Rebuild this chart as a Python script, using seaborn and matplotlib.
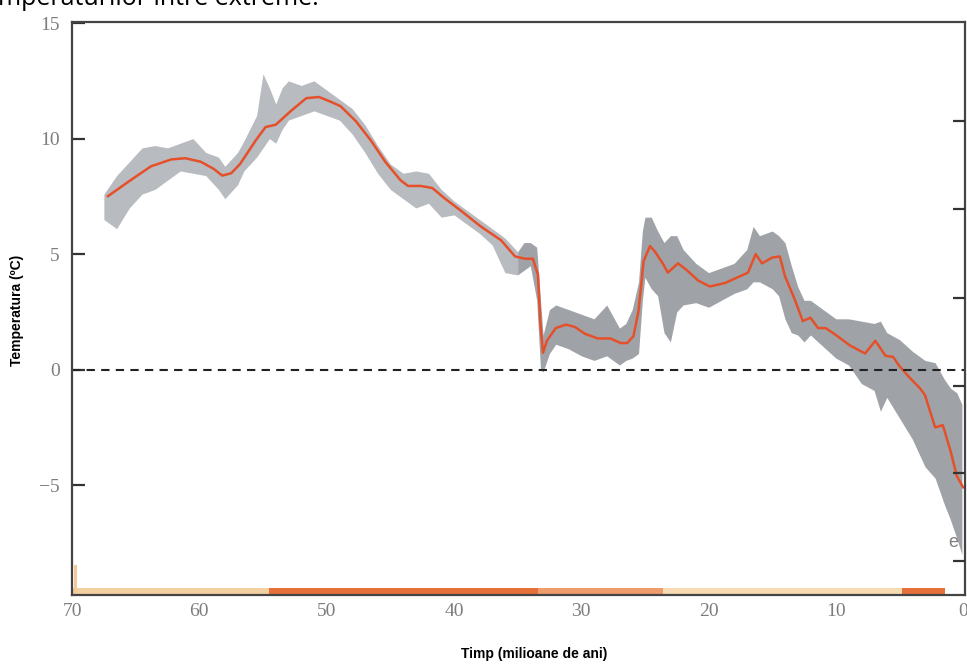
import matplotlib
matplotlib.use('Agg')
import matplotlib.pyplot as plt
import seaborn as sns
import pandas as pd

# smoothed curve (orange)
line_age = [67.2, 65.4, 63.8, 62.2, 61.1, 59.9, 58.9, 58.2, 57.5, 56.8, 55.6, 54.8,
            54.0, 52.8, 51.6, 50.6, 49.7, 48.9, 47.7, 46.5, 45.4, 44.2, 43.6, 42.6,
            41.7, 40.7, 39.5, 37.9, 36.3, 35.2, 34.4, 33.8, 33.4, 33.2, 33.0, 32.7,
            32.0, 31.2, 30.5, 29.7, 28.7, 27.7, 26.9, 26.4, 25.9, 25.5, 25.1, 24.6,
            24.2, 23.6, 23.2, 22.4, 21.8, 20.8, 19.9, 18.7, 17.5, 16.9, 16.3, 15.8,
            15.0, 14.4, 14.0, 13.2, 12.6, 12.0, 11.4, 10.8, 10.0, 8.9, 7.7, 6.9,
            6.1, 5.5, 5.0, 4.2, 3.4, 3.0, 2.6, 2.2, 1.6, 1.0, 0.5, 0.0]
line_temp = [7.5, 8.2, 8.8, 9.1, 9.15, 9.0, 8.7, 8.4, 8.5, 8.9, 9.9, 10.5,
             10.6, 11.2, 11.75, 11.8, 11.6, 11.4, 10.75, 9.9, 9.0, 8.2, 7.95, 7.95,
             7.86, 7.4, 6.9, 6.2, 5.6, 4.9, 4.8, 4.8, 4.1, 1.9, 0.73, 1.25,
             1.8, 1.95, 1.85, 1.55, 1.35, 1.35, 1.15, 1.15, 1.45, 2.55, 4.7, 5.35,
             5.1, 4.6, 4.2, 4.6, 4.35, 3.85, 3.6, 3.75, 4.05, 4.2, 5.0, 4.6,
             4.85, 4.9, 4.05, 3.0, 2.1, 2.25, 1.8, 1.8, 1.5, 1.05, 0.7, 1.25,
             0.6, 0.55, 0.15, -0.35, -0.8, -1.1, -1.8, -2.5, -2.4, -3.5, -4.6, -5.1]

# spread of the raw measurements (grey), sparse older part
old_age = [67.5, 66.5, 65.5, 64.5, 63.5, 62.5, 61.5, 60.5, 59.5, 58.5, 58.0, 57.0,
           56.5, 55.5, 55.0, 54.5, 54.0, 53.5, 53.0, 52.0, 51.0, 50.0, 49.0, 48.0,
           47.0, 46.0, 45.0, 44.0, 43.0, 42.0, 41.0, 40.0, 39.0, 38.0, 37.0, 36.0,
           35.0]
old_lo = [6.5, 6.1, 7.0, 7.6, 7.8, 8.2, 8.6, 8.5, 8.4, 7.8, 7.4, 8.0,
          8.6, 9.2, 9.6, 10.0, 9.8, 10.4, 10.8, 11.0, 11.2, 11.0, 10.8, 10.2,
          9.4, 8.5, 7.8, 7.4, 7.0, 7.2, 6.6, 6.7, 6.3, 5.9, 5.4, 4.2,
          4.1]
old_hi = [7.6, 8.4, 9.0, 9.6, 9.7, 9.6, 9.8, 10.0, 9.4, 9.2, 8.8, 9.4,
          9.9, 11.0, 12.8, 12.2, 11.5, 12.2, 12.5, 12.3, 12.5, 12.1, 11.7, 11.3,
          10.6, 9.7, 8.9, 8.5, 8.6, 8.5, 7.8, 7.3, 6.9, 6.5, 6.1, 5.7,
          5.1]

# dense younger part
new_age = [35.0, 34.5, 34.0, 33.5, 33.2, 33.0, 32.5, 32.0, 31.0, 30.0, 29.0, 28.0,
           27.0, 26.5, 26.0, 25.5, 25.2, 25.0, 24.5, 24.0, 23.5, 23.0, 22.5, 22.0,
           21.0, 20.0, 19.0, 18.0, 17.0, 16.5, 16.0, 15.0, 14.5, 14.0, 13.5, 13.0,
           12.5, 12.0, 11.0, 10.0, 9.0, 8.0, 7.0, 6.5, 6.0, 5.0, 4.0, 3.0,
           2.2, 1.5, 1.0, 0.5, 0.1]
new_lo = [4.1, 4.3, 4.5, 3.0, 0.0, -0.1, 0.7, 1.1, 0.9, 0.6, 0.4, 0.6,
          0.2, 0.4, 0.5, 0.7, 3.0, 4.0, 3.5, 3.2, 1.6, 1.2, 2.5, 2.8,
          2.9, 2.7, 3.0, 3.3, 3.5, 3.8, 3.8, 3.5, 3.2, 2.2, 1.6, 1.5,
          1.2, 1.5, 1.0, 0.5, 0.2, -0.6, -0.9, -1.8, -1.2, -2.1, -3.0, -4.2,
          -4.7, -5.8, -6.5, -7.3, -8.0]
new_hi = [5.1, 5.5, 5.5, 5.3, 3.0, 1.5, 2.6, 2.8, 2.6, 2.4, 2.2, 2.8,
          1.8, 2.0, 2.6, 3.8, 6.0, 6.6, 6.6, 6.0, 5.5, 5.8, 5.8, 5.2,
          4.6, 4.2, 4.4, 4.6, 5.2, 6.2, 5.8, 6.0, 5.8, 5.5, 4.5, 3.6,
          3.0, 3.0, 2.6, 2.2, 2.2, 2.1, 2.0, 2.1, 1.6, 1.3, 0.8, 0.4,
          0.3, -0.4, -0.8, -1.0, -1.5]

# epoch strip along the bottom
epoch_start = [70.0, 54.5, 33.4, 23.6, 4.8]
epoch_end = [54.5, 33.4, 23.6, 4.8, 1.4]
epoch_color = ['#f3d0a2', '#e5703a', '#ee9c6c', '#f7dbb3', '#e5703a']

x_ticks = [70, 60, 50, 40, 30, 20, 10, 0]
y_ticks = [15, 10, 5, 0, -5]
right_ticks = [10.76, 6.96, 3.11, -0.69, -4.49, -8.29]

sns.set_theme(style='white')
plt.rcParams['font.family'] = ['Liberation Sans', 'DejaVu Sans']

fig = plt.figure(figsize=(9.67, 6.64), dpi=100)
ax = fig.add_axes([0.0745, 0.104, 0.9235, 0.863])

ax.fill_between(old_age, old_lo, old_hi, color='#9a9ea4', alpha=0.7, lw=0)
ax.fill_between(new_age, new_lo, new_hi, color='#9a9ea4', alpha=0.95, lw=0)
df = pd.DataFrame({'age': line_age, 'temp': line_temp})
sns.lineplot(data=df, x='age', y='temp', color='#e5502a', lw=1.8, ax=ax)
ax.axhline(0, color='#222222', ls=(0, (4, 3)), lw=1.5)

for s, e, c in zip(epoch_start, epoch_end, epoch_color):
    ax.axvspan(e, s, ymin=0, ymax=0.012, color=c, lw=0)
ax.axvspan(69.6, 69.85, ymin=0, ymax=0.052, color='#f3c99a', lw=0)

ax.set_xlim(70, -0.15)
ax.set_ylim(-9.75, 15.05)
ax.set_xticks(x_ticks)
ax.set_yticks(y_ticks)
ax.set_xticklabels([str(v) for v in x_ticks])
ax.set_yticklabels([str(v) if v >= 0 else '\u2212' + str(-v) for v in y_ticks])
ax.tick_params(axis='y', direction='in', length=9, width=1.6, color='#333333',
               pad=9, labelsize=14, labelcolor='#7d7d7d')
ax.tick_params(axis='x', direction='in', length=5, width=1.2, color='#333333',
               pad=6, labelsize=14, labelcolor='#7d7d7d')
for lab in ax.get_xticklabels() + ax.get_yticklabels():
    lab.set_family(['Liberation Serif', 'DejaVu Serif'])

for side in ['left', 'bottom', 'top', 'right']:
    ax.spines[side].set_visible(True)
    ax.spines[side].set_color('#444444')
    ax.spines[side].set_linewidth(1.6)

ax2 = ax.twinx()
ax2.set_ylim(ax.get_ylim())
ax2.set_yticks(right_ticks)
ax2.set_yticklabels([])
ax2.tick_params(axis='y', direction='in', length=9, width=1.6, color='#333333')
for side in ax2.spines:
    ax2.spines[side].set_visible(False)

ax.set_xlabel('')
ax.set_ylabel('')
ax.text(0.8, -7.5, 'e', color='#808080', fontsize=13, ha='center', va='center')

fig.text(0.552, 0.004, 'Timp (milioane de ani)', fontsize=10, fontweight='bold',
         ha='center', va='bottom', color='black')
fig.text(0.018, 0.532, 'Temperatura (ºC)', fontsize=10, fontweight='bold',
         rotation=90, ha='center', va='center', color='black')
# caption line above the chart, cut off by the top edge as in the source
fig.text(-0.002, 1 - 5 / 664, 'mperaturilor între extreme.', fontsize=18,
         ha='left', va='baseline', color='black', family=['Open Sans', 'DejaVu Sans'])

fig.savefig('out.png', dpi=100)
